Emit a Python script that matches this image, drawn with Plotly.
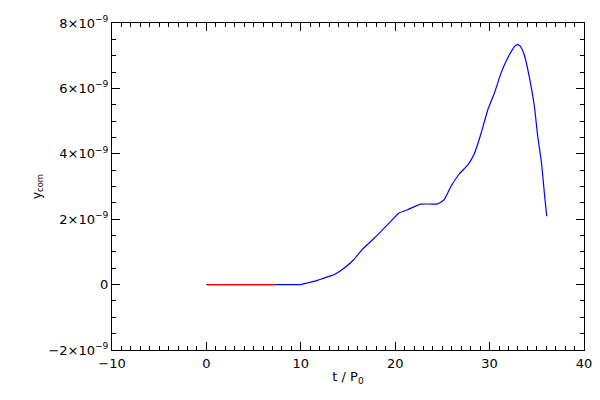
import plotly.graph_objects as go

# Blue curve: t / P0 and y_com (units of 1e-9)
t_blue = [0, 5.0, 9.5, 10.0, 10.7, 11.75, 12.45, 13.5, 14.4, 15.6, 16.5, 17.6, 18.5, 19.35,
          20.4, 21.3, 22.7, 24.5, 25.2, 25.9, 26.8, 27.7, 28.4, 29.1, 29.8, 30.5,
          31.2, 31.9, 32.3, 32.6, 32.9, 33.15, 33.4, 33.7, 34.2, 34.75, 35.1, 35.5, 35.8, 36.05]
y_blue_e9 = [0, 0, 0, 0, 0.05, 0.13, 0.2, 0.3, 0.46, 0.76, 1.07, 1.37, 1.63, 1.88,
             2.19, 2.29, 2.46, 2.47, 2.6, 3.0, 3.39, 3.66, 4.02, 4.63, 5.34, 5.85,
             6.46, 6.92, 7.13, 7.27, 7.34, 7.32, 7.22, 7.0, 6.36, 5.44, 4.53, 3.72, 2.8, 2.09]

# Red segment
t_red = [0.2, 7.2]
y_red_e9 = [0, 0]

# Tick labels
x_ticks = [-10, 0, 10, 20, 30, 40]
y_tick_vals_e9 = [-2, 0, 2, 4, 6, 8]
y_tick_text = ["−2×10<sup>−9</sup>", "0", "2×10<sup>−9</sup>", "4×10<sup>−9</sup>",
               "6×10<sup>−9</sup>", "8×10<sup>−9</sup>"]

scale = 1e-9
fig = go.Figure()
fig.add_trace(go.Scatter(x=t_blue, y=[v * scale for v in y_blue_e9], mode="lines",
                         line=dict(color="#0000ff", width=1.2, shape="spline", smoothing=0.4),
                         showlegend=False))
fig.add_trace(go.Scatter(x=t_red, y=[v * scale for v in y_red_e9], mode="lines",
                         line=dict(color="#ff0000", width=1.2), showlegend=False))

font = dict(family="DejaVu Sans", size=13, color="black")
fig.update_layout(
    width=592, height=392,
    margin=dict(l=104, r=16, t=15, b=50),
    paper_bgcolor="white", plot_bgcolor="white",
    font=font,
    xaxis=dict(range=[-10, 40], tickvals=x_ticks, ticktext=[str(v).replace("-", "−") for v in x_ticks],
               ticks="inside", ticklen=8, tickwidth=1, tickcolor="black",
               showline=True, linecolor="black", linewidth=1, mirror="allticks",
               showgrid=False, zeroline=False, automargin=False, ticklabelstandoff=1,
               minor=dict(dtick=1, ticks="inside", ticklen=4, tickcolor="black", tickwidth=1, showgrid=False),
               title=dict(text="t / P<sub>0</sub>", font=dict(family="DejaVu Sans", size=13), standoff=2)),
    yaxis=dict(range=[-2e-9, 8e-9], tickvals=[v * scale for v in y_tick_vals_e9], ticktext=y_tick_text,
               ticks="inside", ticklen=8, tickwidth=1, tickcolor="black",
               showline=True, linecolor="black", linewidth=1, mirror="allticks",
               showgrid=False, zeroline=False, automargin=False, ticklabelstandoff=0,
               minor=dict(dtick=0.5e-9, ticks="inside", ticklen=4, tickcolor="black", tickwidth=1, showgrid=False),
               title=dict(text="y<sub>com</sub>", font=dict(family="DejaVu Sans", size=12), standoff=4)),
)
fig.write_html("out.html")
